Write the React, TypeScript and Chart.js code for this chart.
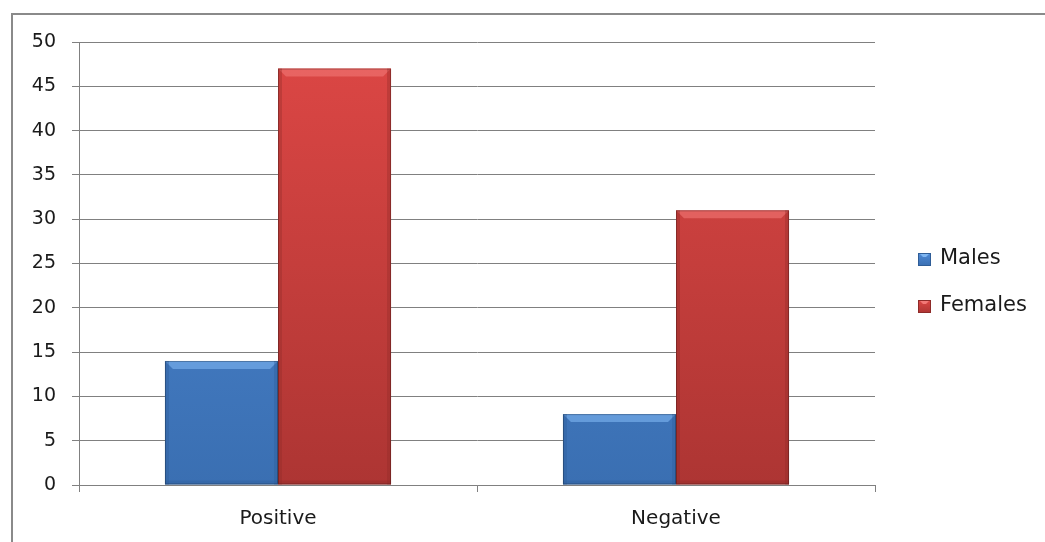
import React, { useEffect, useRef } from "react";
import { Chart, registerables } from "chart.js";

Chart.register(...registerables);

const categories = ["Positive", "Negative"];
const seriesNames = ["Males", "Females"];
const malesValues = [14, 8];
const femalesValues = [47, 31];
const yTicks = [0, 5, 10, 15, 20, 25, 30, 35, 40, 45, 50];

const FONT = "'DejaVu Sans', sans-serif";
const GRID = "#808080";

const palettes = [
  { top: "#4f8ad6", bottom: "#3a6fb2", solid: "#3f78c2", edge: "#2f5d97", hi: "#7fb6f2" },
  { top: "#dd4745", bottom: "#ad3533", solid: "#c83e3c", edge: "#8e2b29", hi: "#f27876" },
];

function fillFor(i: number) {
  return (ctx: any) => {
    const chart = ctx.chart;
    const area = chart.chartArea;
    const p = palettes[i];
    if (!area) return p.solid;
    const g = chart.ctx.createLinearGradient(0, area.top, 0, area.bottom);
    g.addColorStop(0, p.top);
    g.addColorStop(1, p.bottom);
    return g;
  };
}

const legendPlugin = {
  id: "sideLegend",
  afterDraw(chart: any) {
    const c = chart.ctx;
    c.save();
    const ys = [259, 306];
    seriesNames.forEach((name, i) => {
      const p = palettes[i];
      const y = ys[i];
      const g = c.createLinearGradient(0, y - 6, 0, y + 7);
      g.addColorStop(0, p.top);
      g.addColorStop(1, p.bottom);
      c.fillStyle = g;
      c.fillRect(918, y - 6, 13, 13);
      c.fillStyle = p.hi;
      c.beginPath();
      c.moveTo(919, y - 6);
      c.lineTo(930, y - 6);
      c.lineTo(926, y - 2);
      c.lineTo(923, y - 2);
      c.closePath();
      c.fill();
      c.strokeStyle = p.edge;
      c.lineWidth = 1;
      c.strokeRect(918.5, y - 5.5, 12, 12);
      c.fillStyle = "#1a1a1a";
      c.font = `21px ${FONT}`;
      c.textBaseline = "middle";
      c.textAlign = "left";
      c.fillText(name, 940, y);
    });
    c.restore();
  },
};

const bevelPlugin = {
  id: "bevel",
  afterDatasetsDraw(chart: any) {
    const c = chart.ctx;
    c.save();
    chart.data.datasets.forEach((ds: any, di: number) => {
      const meta = chart.getDatasetMeta(di);
      const p = palettes[di];
      meta.data.forEach((bar: any) => {
        const { x, y, width, base } = bar.getProps(["x", "y", "width", "base"], true);
        const l = x - width / 2;
        const r = x + width / 2;
        c.fillStyle = p.hi;
        c.globalAlpha = 0.6;
        c.beginPath();
        c.moveTo(l, y);
        c.lineTo(r, y);
        c.lineTo(r - 8, y + 8);
        c.lineTo(l + 8, y + 8);
        c.closePath();
        c.fill();
        c.globalAlpha = 0.35;
        c.fillStyle = p.edge;
        c.fillRect(l, y, 4, base - y);
        c.fillRect(r - 4, y, 4, base - y);
        c.fillRect(l, base - 4, width, 4);
        c.globalAlpha = 1;
        c.strokeStyle = "rgba(0,0,0,0.25)";
        c.lineWidth = 1;
        c.strokeRect(l + 0.5, y + 0.5, width - 1, base - y - 1);
      });
    });
    c.restore();
  },
};

export default function App() {
  const ref = useRef<HTMLCanvasElement | null>(null);
  useEffect(() => {
    if (!ref.current) return;
    const chart = new Chart(ref.current, {
      type: "bar",
      data: {
        labels: categories,
        datasets: [
          { label: seriesNames[0], data: malesValues, backgroundColor: fillFor(0), borderWidth: 0 },
          { label: seriesNames[1], data: femalesValues, backgroundColor: fillFor(1), borderWidth: 0 },
        ],
      },
      options: {
        animation: false,
        responsive: false,
        maintainAspectRatio: false,
        layout: { padding: { top: 42, right: 170, left: 0, bottom: 0 } },
        datasets: { bar: { categoryPercentage: 0.568, barPercentage: 1 } },
        plugins: { legend: { display: false }, tooltip: { enabled: false } },
        scales: {
          x: {
            afterFit: (s: any) => {
              s.height = 57;
            },
            grid: { drawOnChartArea: false, color: GRID, tickLength: 7, offset: true },
            border: { color: GRID, width: 1 },
            ticks: { color: "#1a1a1a", font: { family: FONT, size: 20 }, padding: 15 },
          },
          y: {
            min: 0,
            max: 50,
            afterFit: (s: any) => {
              s.width = 79;
            },
            afterBuildTicks: (s: any) => {
              s.ticks = yTicks.map((v) => ({ value: v }));
            },
            grid: { color: GRID, tickLength: 7 },
            border: { color: GRID, width: 1 },
            ticks: { color: "#1a1a1a", font: { family: FONT, size: 19 }, padding: 16 },
          },
        },
      },
      plugins: [bevelPlugin, legendPlugin],
    });
    return () => chart.destroy();
  }, []);

  return (
    <div style={{ position: "fixed", left: 0, top: 0, width: 1045, height: 542, background: "#fff", overflow: "hidden" }}>
      <div
        style={{
          position: "absolute",
          left: 11,
          top: 13,
          width: 1100,
          height: 600,
          border: "2px solid #8a8a8a",
          boxSizing: "border-box",
        }}
      />
      <canvas ref={ref} width={1045} height={542} style={{ position: "absolute", left: 0, top: 0 }} />
    </div>
  );
}
